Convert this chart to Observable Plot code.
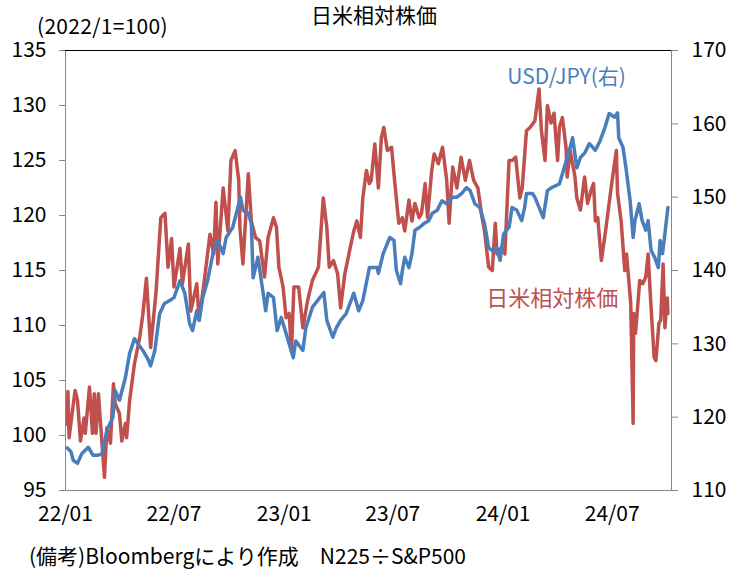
<!DOCTYPE html>
<html><head><meta charset="utf-8">
<script src="https://cdn.jsdelivr.net/npm/d3@7"></script>
<script src="https://cdn.jsdelivr.net/npm/@observablehq/plot@0.6"></script>
<style>
body{margin:0;background:#fff;}
#wrap{position:relative;width:739px;height:577px;overflow:hidden;background:#fff}
#chart svg{display:block}
.t{position:absolute;white-space:nowrap;color:#000;font-family:'Noto Sans CJK JP',sans-serif}
</style></head><body>
<div id="wrap">
<div id="chart"></div>
<div class="t" id="title" style="left:0;width:748px;text-align:center;top:4px;font-size:21px;line-height:21px">日米相対株価</div>
<div class="t" id="sub" style="left:37px;top:15px;font-size:21px;line-height:21px;letter-spacing:0.3px">(2022/1=100)</div>
<div class="t" id="foot" style="left:29px;top:544px;font-size:21px;line-height:22px">(備考)Bloombergにより作成　N225÷S&amp;P500</div>
</div>
<script>
// 日米相対株価 (N225÷S&P500, 2022/1=100) — left axis
const redDates = ["2022-01-04","2022-01-05","2022-01-07","2022-01-12","2022-01-17","2022-01-21","2022-01-26","2022-02-01","2022-02-03","2022-02-10","2022-02-15","2022-02-18","2022-02-21","2022-02-25","2022-03-01","2022-03-07","2022-03-11","2022-03-17","2022-03-22","2022-03-25","2022-04-01","2022-04-05","2022-04-11","2022-04-13","2022-04-18","2022-04-26","2022-05-05","2022-05-10","2022-05-16","2022-05-23","2022-06-01","2022-06-09","2022-06-16","2022-06-21","2022-06-27","2022-07-01","2022-07-11","2022-07-15","2022-07-25","2022-07-29","2022-08-08","2022-08-12","2022-08-22","2022-08-30","2022-09-05","2022-09-09","2022-09-12","2022-09-21","2022-09-29","2022-10-04","2022-10-11","2022-10-17","2022-10-19","2022-10-24","2022-11-02","2022-11-07","2022-11-14","2022-11-21","2022-11-29","2022-12-05","2022-12-14","2022-12-19","2022-12-23","2022-12-30","2023-01-04","2023-01-09","2023-01-13","2023-01-17","2023-01-25","2023-02-01","2023-02-09","2023-02-17","2023-02-27","2023-03-07","2023-03-13","2023-03-17","2023-03-24","2023-03-31","2023-04-05","2023-04-12","2023-04-20","2023-04-27","2023-05-02","2023-05-08","2023-05-12","2023-05-18","2023-05-23","2023-05-26","2023-06-01","2023-06-07","2023-06-12","2023-06-16","2023-06-22","2023-06-29","2023-07-04","2023-07-11","2023-07-17","2023-07-21","2023-07-28","2023-08-02","2023-08-07","2023-08-14","2023-08-18","2023-08-24","2023-08-28","2023-09-04","2023-09-08","2023-09-15","2023-09-22","2023-09-29","2023-10-03","2023-10-09","2023-10-16","2023-10-23","2023-10-30","2023-11-06","2023-11-13","2023-11-20","2023-11-27","2023-12-01","2023-12-08","2023-12-14","2023-12-19","2023-12-22","2023-12-29","2024-01-04","2024-01-11","2024-01-16","2024-01-22","2024-01-29","2024-02-02","2024-02-09","2024-02-15","2024-02-23","2024-03-01","2024-03-05","2024-03-11","2024-03-15","2024-03-21","2024-03-26","2024-04-01","2024-04-04","2024-04-09","2024-04-15","2024-04-17","2024-04-22","2024-04-30","2024-05-03","2024-05-09","2024-05-16","2024-05-21","2024-05-27","2024-05-31","2024-06-03","2024-06-07","2024-06-13","2024-06-20","2024-06-25","2024-07-01","2024-07-08","2024-07-10","2024-07-16","2024-07-22","2024-07-25","2024-08-01","2024-08-05","2024-08-06","2024-08-09","2024-08-16","2024-08-21","2024-08-26","2024-08-30","2024-09-03","2024-09-09","2024-09-12","2024-09-17","2024-09-20","2024-09-24","2024-09-27","2024-10-01","2024-10-02"];
const redValues = [101.0,104.0,99.8,102.0,104.1,103.2,99.5,101.6,100.2,104.4,100.2,103.8,100.2,103.8,100.7,96.2,100.7,99.3,104.7,102.9,102.0,99.5,101.1,99.8,103.2,106.5,109.0,111.0,114.3,108.0,113.0,119.8,120.2,115.3,117.9,113.5,117.0,113.8,117.4,111.3,113.8,110.5,114.7,118.3,116.5,121.2,115.6,122.5,118.6,125.0,125.9,123.2,118.9,115.6,123.8,119.5,118.0,117.7,114.4,118.0,119.8,118.9,115.3,113.5,110.7,111.1,107.7,113.5,113.5,109.8,112.3,114.1,115.3,121.6,118.9,115.3,115.9,114.7,111.6,114.7,116.8,118.6,119.5,118.0,121.6,124.1,122.9,123.2,126.5,122.5,127.1,128.0,125.9,126.2,123.2,119.3,119.8,118.6,121.4,119.5,121.1,119.8,120.2,122.9,119.8,124.1,125.6,124.7,126.2,123.2,119.3,124.4,122.5,125.3,123.2,125.0,123.2,122.5,119.8,118.6,115.3,115.0,119.3,116.5,117.1,116.5,125.0,125.0,125.3,121.6,122.5,127.7,128.0,128.6,131.5,127.7,125.0,130.0,128.4,129.3,125.0,128.0,128.9,126.2,123.5,125.9,123.5,121.6,120.5,123.5,121.1,122.3,122.9,119.5,119.8,115.9,118.6,120.7,123.2,125.9,122.0,119.5,115.0,116.5,112.0,101.1,111.1,109.3,114.1,113.8,114.4,116.5,112.5,107.1,106.8,110.2,110.5,115.6,109.8,112.5,111.1];

// USD/JPY — right axis
const blueDates = ["2022-01-04","2022-01-10","2022-01-14","2022-01-21","2022-01-28","2022-02-08","2022-02-16","2022-02-23","2022-03-03","2022-03-11","2022-03-21","2022-03-25","2022-04-01","2022-04-11","2022-04-18","2022-04-26","2022-05-02","2022-05-10","2022-05-18","2022-05-23","2022-05-30","2022-06-07","2022-06-15","2022-06-24","2022-07-01","2022-07-11","2022-07-19","2022-07-27","2022-08-01","2022-08-08","2022-08-12","2022-08-18","2022-08-26","2022-09-05","2022-09-12","2022-09-21","2022-09-26","2022-10-07","2022-10-20","2022-10-24","2022-11-02","2022-11-07","2022-11-10","2022-11-18","2022-12-01","2022-12-05","2022-12-14","2022-12-20","2022-12-27","2023-01-04","2023-01-16","2023-01-20","2023-02-01","2023-02-06","2023-02-17","2023-03-08","2023-03-13","2023-03-23","2023-03-29","2023-04-05","2023-04-14","2023-04-27","2023-05-05","2023-05-12","2023-05-23","2023-06-05","2023-06-07","2023-06-15","2023-06-26","2023-07-03","2023-07-07","2023-07-14","2023-07-17","2023-07-21","2023-07-28","2023-08-02","2023-08-07","2023-08-15","2023-08-22","2023-08-30","2023-09-05","2023-09-13","2023-09-21","2023-09-29","2023-10-09","2023-10-16","2023-10-24","2023-11-01","2023-11-07","2023-11-15","2023-11-23","2023-12-01","2023-12-08","2023-12-14","2023-12-21","2023-12-27","2024-01-02","2024-01-11","2024-01-16","2024-01-24","2024-02-01","2024-02-06","2024-02-09","2024-02-19","2024-02-23","2024-03-08","2024-03-15","2024-03-22","2024-04-04","2024-04-12","2024-04-22","2024-04-26","2024-05-03","2024-05-09","2024-05-16","2024-05-24","2024-06-03","2024-06-11","2024-06-19","2024-06-26","2024-07-05","2024-07-10","2024-07-12","2024-07-19","2024-07-24","2024-07-31","2024-08-05","2024-08-08","2024-08-15","2024-08-20","2024-08-26","2024-08-30","2024-09-04","2024-09-10","2024-09-16","2024-09-19","2024-09-23","2024-09-27","2024-10-02"];
const blueValues = [115.8,115.3,114.1,113.7,115.0,115.9,114.8,114.8,115.0,118.2,120.0,123.6,122.3,125.4,128.7,130.7,130.0,129.1,128.0,127.0,129.1,134.1,135.5,135.9,136.3,138.6,136.9,132.8,131.8,134.5,133.2,136.3,138.6,142.7,144.1,142.3,144.5,145.9,150.0,148.2,147.8,146.4,139.0,141.8,134.5,136.9,136.3,131.8,133.6,131.4,128.1,130.4,129.1,132.2,135.0,137.0,133.2,130.9,132.2,133.2,134.1,136.9,134.5,135.9,140.4,140.4,139.6,142.3,144.5,144.1,140.0,138.2,140.0,141.8,140.4,142.3,145.5,145.9,146.4,146.8,147.8,148.2,149.5,149.1,150.0,150.0,150.5,151.3,150.9,149.1,148.6,146.4,143.1,142.7,143.1,141.4,145.0,145.9,148.6,148.2,146.8,148.6,150.5,150.5,150.0,147.2,150.9,151.3,151.8,154.0,156.8,158.1,154.0,155.4,156.0,157.3,156.4,157.7,159.5,161.4,160.9,161.5,158.1,156.8,154.0,149.5,144.5,146.8,149.1,146.8,145.5,146.8,142.7,141.8,140.4,144.1,142.3,145.0,148.6];

const leftTicks = [95, 100, 105, 110, 115, 120, 125, 130, 135];
const rightTicks = [110, 120, 130, 140, 150, 160, 170];
const xTickDates = ["2022-01-01","2022-07-01","2023-01-01","2023-07-01","2024-01-01","2024-07-01"];
const xDomain = ["2022-01-01","2024-10-08"];
const leftDomain = [95, 135];
const rightDomain = [110, 170];

const seriesNames = {red: "日米相対株価", blue: "USD/JPY(右)"};
// label anchor points (data space)
const blueLabelAt = {date: "2024-04-16", left: 132.6};
const redLabelAt = {date: "2024-03-23", left: 112.45};

const RED = "#C0504D", BLUE = "#4A7EBB", GRAY = "#898989";

const toLeft = v => leftDomain[0] + (v - rightDomain[0]) * (leftDomain[1]-leftDomain[0])/(rightDomain[1]-rightDomain[0]);
const fromLeft = v => rightDomain[0] + (v - leftDomain[0]) * (rightDomain[1]-rightDomain[0])/(leftDomain[1]-leftDomain[0]);

const redData = redDates.map((d,i) => ({date: new Date(d), value: redValues[i]}));
const blueData = blueDates.map((d,i) => ({date: new Date(d), value: blueValues[i]}));

const plot = Plot.plot({
  width: 739, height: 577,
  marginLeft: 65, marginRight: 68, marginTop: 50, marginBottom: 87,
  x: {type: "utc", domain: xDomain.map(d => new Date(d))},
  y: {domain: leftDomain},
  style: {fontFamily: "'Noto Sans CJK JP',sans-serif", fontSize: "21px", background: "white", color: "#000", overflow: "visible"},
  marks: [
    Plot.frame({stroke: GRAY}),
    Plot.ruleY([leftDomain[1]], {stroke: "#000"}),
    Plot.axisY({anchor: "left", ticks: leftTicks, tickSize: 6, tickPadding: 13, stroke: GRAY, label: null, fontSize: 21}),
    Plot.axisY({anchor: "right", ticks: rightTicks.map(toLeft), tickFormat: d => String(Math.round(fromLeft(d))), tickSize: 6, tickPadding: 14, stroke: GRAY, label: null, fontSize: 21}),
    Plot.axisX({ticks: xTickDates.map(d => new Date(d)), tickFormat: d3.utcFormat("%y/%m"), tickSize: 0, tickPadding: 16, label: null, fontSize: 21}),
    Plot.line(redData, {x: "date", y: "value", stroke: RED, strokeWidth: 3.5}),
    Plot.line(blueData, {x: "date", y: d => toLeft(d.value), stroke: BLUE, strokeWidth: 3.5}),
    Plot.text([blueLabelAt], {x: d => new Date(d.date), y: "left", text: () => seriesNames.blue, fill: BLUE, fontSize: 21}),
    Plot.text([redLabelAt], {x: d => new Date(d.date), y: "left", text: () => seriesNames.red, fill: RED, fontSize: 22})
  ]
});
document.getElementById("chart").appendChild(plot);
</script>
</body></html>
